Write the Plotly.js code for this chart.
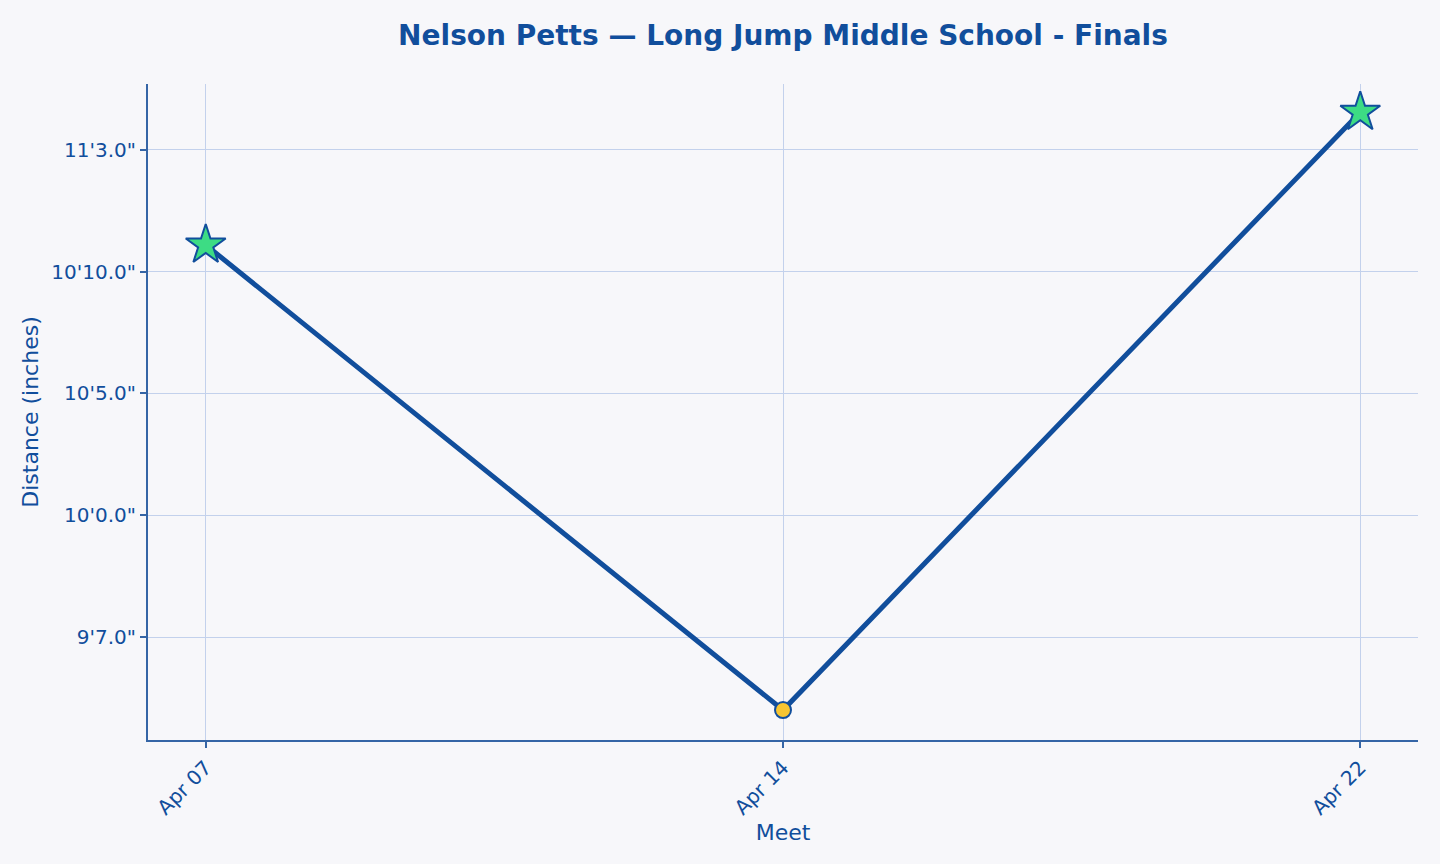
<!DOCTYPE html>
<html>
<head>
<meta charset="utf-8">
<script src="https://cdn.plot.ly/plotly-3.0.1.min.js"></script>
<style>
  html, body { margin: 0; padding: 0; background: #f7f7fa; }
  #plot { width: 1440px; height: 864px; }
</style>
</head>
<body>
<div id="plot"></div>
<script>
// meets and best jump per meet, in inches
var meets = ["Apr 07", "Apr 14", "Apr 22"];
var distances = [131.1, 112.0, 136.55];
var personalBest = [true, false, true];

var tickVals = [115, 120, 125, 130, 135];
var tickText = ["9'7.0\"", "10'0.0\"", "10'5.0\"", "10'10.0\"", "11'3.0\""];

var blue = "#114e9c";
var axisBlue = "#3565a6";
var font = "DejaVu Sans, sans-serif";

var symbols = [], sizes = [], fills = [];
for (var i = 0; i < meets.length; i++) {
  if (personalBest[i]) {
    symbols.push("star");
    sizes.push(30);
    fills.push("#3ddc84");
  } else {
    symbols.push("circle");
    sizes.push(16);
    fills.push("#f7c531");
  }
}

var data = [{
  x: meets,
  y: distances,
  type: "scatter",
  mode: "lines+markers",
  line: {color: blue, width: 5},
  marker: {symbol: symbols, size: sizes, color: fills, opacity: 1, line: {color: blue, width: 2}},
  hoverinfo: "x+y"
}];

var layout = {
  width: 1440,
  height: 864,
  paper_bgcolor: "#f7f7fa",
  plot_bgcolor: "#f7f7fa",
  margin: {l: 148, r: 22, t: 84, b: 124},
  showlegend: false,
  font: {family: font, color: blue},
  title: {
    text: "<b>Nelson Petts — Long Jump Middle School - Finals</b>",
    font: {family: font, size: 28, color: blue},
    x: 0.5, xref: "paper", xanchor: "center",
    y: 1 - 35 / 864, yanchor: "middle"
  },
  xaxis: {
    type: "category",
    range: [-0.1, 2.1],
    title: {text: "Meet", font: {family: font, size: 22, color: blue}, standoff: 5},
    tickangle: -45,
    tickfont: {family: font, size: 20, color: blue},
    ticks: "outside", ticklen: 6, tickwidth: 2, tickcolor: axisBlue,
    showline: true, linecolor: axisBlue, linewidth: 2,
    showgrid: true, gridcolor: "#c3d1ec", gridwidth: 1,
    zeroline: false
  },
  yaxis: {
    range: [110.77, 137.71],
    tickvals: tickVals,
    ticktext: tickText,
    title: {text: "Distance (inches)", font: {family: font, size: 22, color: blue}, standoff: 7},
    tickfont: {family: font, size: 20, color: blue},
    ticks: "outside", ticklen: 6, tickwidth: 2, tickcolor: axisBlue,
    showline: true, linecolor: axisBlue, linewidth: 2,
    showgrid: true, gridcolor: "#c3d1ec", gridwidth: 1,
    zeroline: false
  }
};

Plotly.newPlot("plot", data, layout, {displayModeBar: false});
</script>
</body>
</html>
